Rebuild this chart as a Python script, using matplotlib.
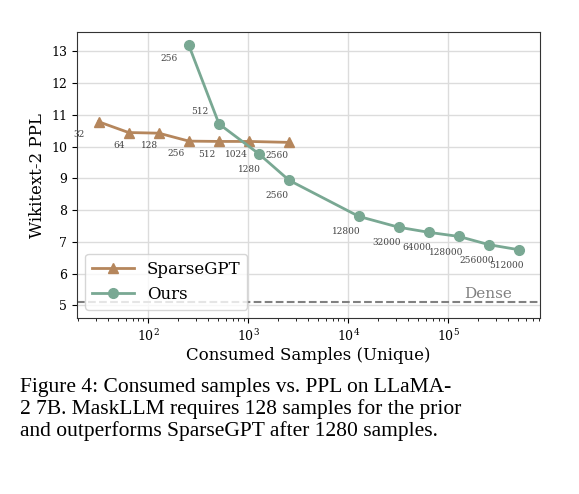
import matplotlib
matplotlib.use('Agg')
import matplotlib.pyplot as plt

sg_x = [32, 64, 128, 256, 512, 1024, 2560]
sg_y = [10.78, 10.44, 10.42, 10.17, 10.16, 10.16, 10.13]
ours_x = [256, 512, 1280, 2560, 12800, 32000, 64000, 128000, 256000, 512000]
ours_y = [13.18, 10.71, 9.77, 8.94, 7.8, 7.46, 7.3, 7.17, 6.91, 6.75]
dense = 5.1

plt.rcParams['font.family'] = ['DejaVu Serif']
fig = plt.figure(figsize=(5.79, 4.94), dpi=100)
ax = fig.add_axes([0.133, 0.356, 0.8, 0.579])

brown = '#b5865c'
green = '#79a893'
ax.plot(sg_x, sg_y, '-^', color=brown, lw=2, ms=7, label='SparseGPT', zorder=3)
ax.plot(ours_x, ours_y, '-o', color=green, lw=2, ms=7, label='Ours', zorder=3)
ax.axhline(dense, color='gray', ls='--', lw=1.5)
ax.text(2.5e5, dense + 0.03, 'Dense', color='gray', fontsize=11, ha='center', va='bottom')

# annotation offsets (points)
sg_off = [(-14, -11), (-7, -11), (-7, -11), (-9, -11), (-9, -11), (-9, -11), (-9, -11)]
ours_off = [(-14, -11), (-14, 7), (-7, -13), (-9, -13), (-9, -13), (-9, -13), (-9, -13), (-9, -13), (-9, -13), (-9, -13)]
for x, y, o in zip(sg_x, sg_y, sg_off):
    ax.annotate(str(x), (x, y), xytext=o, textcoords='offset points', fontsize=6.5, color='#444444', ha='center')
for x, y, o in zip(ours_x, ours_y, ours_off):
    ax.annotate(str(x), (x, y), xytext=o, textcoords='offset points', fontsize=6.5, color='#444444', ha='center')

ax.set_xscale('log')
ax.set_xlim(19.5, 8.3e5)
ax.set_ylim(4.6, 13.6)
ax.set_yticks(range(5, 14))
ax.grid(True, color='#dcdcdc', lw=1)
ax.tick_params(labelsize=9)
for s in ax.spines.values():
    s.set_color('#333333')
ax.set_xlabel('Consumed Samples (Unique)', fontsize=12, labelpad=2)
ax.set_ylabel('Wikitext-2 PPL', fontsize=12)
ax.legend(loc='lower left', fontsize=12, handlelength=2.5)

fig.text(0.035, 0.235, 'Figure 4: Consumed samples vs. PPL on LLaMA-\n2 7B. MaskLLM requires 128 samples for the prior\nand outperforms SparseGPT after 1280 samples.',
         fontsize=15.5, family='Liberation Serif', va='top', linespacing=1.15)

fig.savefig('out.png', dpi=100)
